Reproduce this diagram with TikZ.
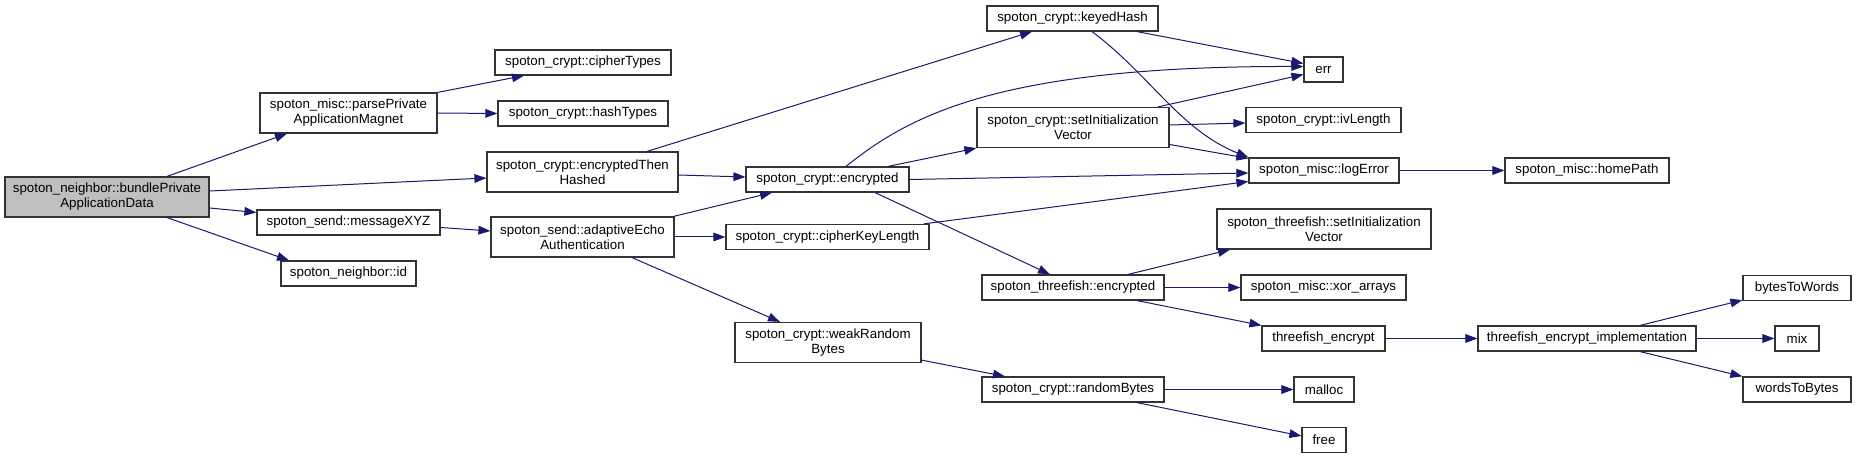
\documentclass[tikz,border=0pt]{standalone}
\usepackage{fontspec}
\setmainfont{Liberation Sans}
\usetikzlibrary{arrows.meta,calc}
\definecolor{midblue}{HTML}{191970}
\definecolor{boxline}{HTML}{333333}
\newdimen\pxu \pxu=0.75pt
\tikzset{
  box/.style={draw=boxline, line width=0.9pt, fill=white, inner sep=0pt, align=center,
    minimum height=25\pxu, font=\fontsize{10}{11.3}\selectfont},
  tall/.style={minimum height=40\pxu},
  root/.style={fill=black!25},
  edge/.style={draw=midblue, line width=0.75pt, -{Triangle[length=9pt,width=6.5pt]}}
}
\begin{document}
\begin{tikzpicture}[x=0.75pt,y=-0.75pt]
\useasboundingbox (0,0) rectangle (1856,459);
% nodes
\node[box,tall,root,minimum width=204\pxu] (bundle) at (107,197) {spoton\_neighbor::bundlePrivate\\ApplicationData};
\node[box,tall,minimum width=177\pxu] (parse) at (348.5,113) {spoton\_misc::parsePrivate\\ApplicationMagnet};
\node[box,minimum width=183\pxu] (msg) at (348.5,222.5) {spoton\_send::messageXYZ};
\node[box,minimum width=135\pxu] (nid) at (348.5,273.5) {spoton\_neighbor::id};
\node[box,minimum width=176\pxu] (ctypes) at (583,62.5) {spoton\_crypt::cipherTypes};
\node[box,minimum width=170\pxu] (htypes) at (583,113.5) {spoton\_crypt::hashTypes};
\node[box,tall,minimum width=191\pxu] (eth) at (582.5,172) {spoton\_crypt::encryptedThen\\Hashed};
\node[box,tall,minimum width=183\pxu] (aea) at (582.5,237) {spoton\_send::adaptiveEcho\\Authentication};
\node[box,minimum width=163\pxu] (enc) at (827.5,179.5) {spoton\_crypt::encrypted};
\node[box,minimum width=203\pxu] (ckl) at (827.5,237) {spoton\_crypt::cipherKeyLength};
\node[box,tall,minimum width=186\pxu] (wrb) at (828,342.5) {spoton\_crypt::weakRandom\\Bytes};
\node[box,minimum width=171\pxu] (keyed) at (1072.5,18.5) {spoton\_crypt::keyedHash};
\node[box,tall,minimum width=192\pxu] (siv) at (1073,127.5) {spoton\_crypt::setInitialization\\Vector};
\node[box,minimum width=182\pxu] (tfenc) at (1073,287.5) {spoton\_threefish::encrypted};
\node[box,minimum width=182\pxu] (rb) at (1073,389.5) {spoton\_crypt::randomBytes};
\node[box,minimum width=39\pxu] (err) at (1323.5,69.5) {err};
\node[box,minimum width=155\pxu] (ivl) at (1323.5,120) {spoton\_crypt::ivLength};
\node[box,minimum width=150\pxu] (logerr) at (1324,170.5) {spoton\_misc::logError};
\node[box,tall,minimum width=214\pxu] (tfsiv) at (1324,229) {spoton\_threefish::setInitialization\\Vector};
\node[box,minimum width=165\pxu] (xor) at (1323.5,287.5) {spoton\_misc::xor\_arrays};
\node[box,minimum width=123\pxu] (tfe) at (1323.5,338.5) {threefish\_encrypt};
\node[box,minimum width=60\pxu] (malloc) at (1324,389.5) {malloc};
\node[box,minimum width=44\pxu] (free) at (1324,440) {free};
\node[box,minimum width=164\pxu] (home) at (1587,170.5) {spoton\_misc::homePath};
\node[box,minimum width=218\pxu] (impl) at (1587,338.5) {threefish\_encrypt\_implementation};
\node[box,minimum width=108\pxu] (b2w) at (1797,288) {bytesToWords};
\node[box,minimum width=44\pxu] (mix) at (1797,338.5) {mix};
\node[box,minimum width=108\pxu] (w2b) at (1797,389.5) {wordsToBytes};
% edges
\draw[edge] ($(bundle.north)+(60,0)$) -- ($(parse.south)+(-61.5,0)$);
\draw[edge] ($(bundle.east)+(0,-6)$) -- ($(eth.west)+(0,6)$);
\draw[edge] ($(bundle.east)+(0,11)$) -- ($(msg.west)+(0,-10)$);
\draw[edge] ($(bundle.south)+(60,0)$) -- ($(nid.north)+(-59.5,0)$);
\draw[edge] (parse.north east) -- ($(ctypes.south)+(-59,0)$);
\draw[edge] (parse.east) -- (htypes.west);
\draw[edge] ($(eth.north)+(64.5,0)$) -- ($(keyed.south)+(-40.5,0)$);
\draw[edge] ($(eth.east)+(0,3)$) -- ($(enc.west)+(0,-2.5)$);
\draw[edge] ($(msg.east)+(0,5)$) -- ($(aea.west)+(0,-6)$);
\draw[edge] ($(aea.north east)+(-1,0)$) -- ($(enc.south)+(-55.5,0)$);
\draw[edge] (aea.east) -- (ckl.west);
\draw[edge] ($(aea.south)+(49.5,0)$) -- ($(wrb.north)+(-48,0)$);
\draw[edge] ($(enc.north)+(18.5,0)$) .. controls (910,115) and (1000,66) .. ($(err.west)+(0,-3)$);
\draw[edge] ($(enc.north)+(60.5,0)$) -- (siv.south west);
\draw[edge] (enc.east) -- ($(logerr.west)+(0,2.5)$);
\draw[edge] ($(enc.south)+(47.5,0)$) -- ($(tfenc.north)+(-23,0)$);
\draw[edge] ($(ckl.north east)+(-6,0)$) -- ($(logerr.west)+(0,11)$);
\draw[edge] ($(keyed.south)+(64.5,0)$) -- ($(err.west)+(0,-6)$);
\draw[edge] ($(keyed.south)+(19.5,0)$) .. controls (1150,75) and (1180,130) .. (logerr.north west);
\draw[edge] ($(siv.north)+(85,0)$) -- ($(err.west)+(0,5)$);
\draw[edge] ($(siv.east)+(0,-2.5)$) -- ($(ivl.west)+(0,3)$);
\draw[edge] ($(siv.east)+(0,17)$) -- ($(logerr.north west)+(0,1)$);
\draw[edge] (logerr.east) -- (home.west);
\draw[edge] ($(tfenc.north)+(55,0)$) -- ($(tfsiv.south)+(-94,0)$);
\draw[edge] (tfenc.east) -- (xor.west);
\draw[edge] ($(tfenc.south)+(64,0)$) -- (tfe.north west);
\draw[edge] (tfe.east) -- (impl.west);
\draw[edge] ($(impl.north)+(53,0)$) -- ($(b2w.south west)+(0,-1)$);
\draw[edge] (impl.east) -- (mix.west);
\draw[edge] ($(impl.south)+(53,0)$) -- (w2b.north west);
\draw[edge] ($(wrb.south east)+(0,-3)$) -- ($(rb.north)+(-68,0)$);
\draw[edge] (rb.east) -- (malloc.west);
\draw[edge] ($(rb.south)+(64,0)$) -- ($(free.west)+(0,-4)$);
\end{tikzpicture}
\end{document}
